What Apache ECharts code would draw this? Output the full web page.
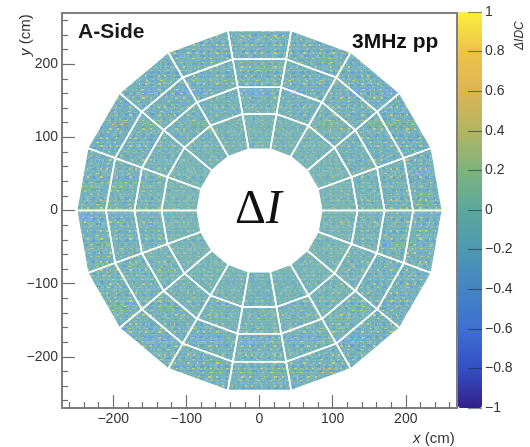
<!DOCTYPE html>
<html><head><meta charset="utf-8">
<style>html,body{margin:0;padding:0;background:#fff}#c{width:530px;height:447px;filter:blur(0.6px)}</style>
<script src="https://cdn.jsdelivr.net/npm/echarts@6/dist/echarts.min.js"></script>
</head><body><div id="c"></div>
<script>
// Estimated mean dI/IDC per readout chamber; sector 0 spans 0-20 deg, counter-clockwise
const ringInner = [-0.06,-0.07,-0.06,-0.08,-0.07,-0.08,-0.09,-0.07,-0.06,-0.07,-0.06,-0.07,-0.08,-0.10,-0.09,-0.08,-0.07,-0.06];
const ringIRegion2 = [-0.09,-0.10,-0.08,-0.11,-0.09,-0.10,-0.11,-0.09,-0.08,-0.08,-0.07,-0.08,-0.09,-0.09,-0.08,-0.07,-0.08,-0.08];
const ringIRegion3 = [-0.10,-0.12,-0.11,-0.13,-0.12,-0.12,-0.13,-0.12,-0.11,-0.11,-0.09,-0.10,-0.10,-0.09,-0.09,-0.09,-0.11,-0.10];
const ringOuter = [-0.14,-0.16,-0.14,-0.14,-0.12,-0.11,-0.13,-0.16,-0.11,-0.12,-0.09,-0.10,-0.13,-0.12,-0.11,-0.13,-0.12,-0.12];
const ringValues = [ringInner, ringIRegion2, ringIRegion3, ringOuter];
const ringEdges = [85, 134, 171, 210, 250];
const sectorWidth = 20;
const axisTicks = [-200, -100, 0, 100, 200];
const minorTicks = [-260,-240,-220,-180,-160,-140,-120,-80,-60,-40,-20,20,40,60,80,120,140,160,180,220,240,260];
const barColors = ['#32208a','#3550c4','#3f6fd0','#4584c4','#4c99b0','#5ca79c','#7eb37c','#b2b563','#ddb455','#eec24a','#fbef3a'];

const cells = [];
ringValues.forEach((row, r) => row.forEach((v, s) => cells.push([s, r, v])));

const textureStrength = [0.55, 0.75, 0.9, 1];
const lightSpeck = {symbol:'rect', symbolSize:1, color:'rgba(160,200,190,0.45)', backgroundColor:null, rotation:0,
  dashArrayX:[[3,2,4,3,2,5],[2,4,1,3,5,2],[4,3,2,2,3,5],[1,3,4,4,2,3],[5,2,2,4,1,3],[2,5,3,2,4,3],[3,3,5,2,1,4]], dashArrayY:[2,1,3,2,1,2,2,1,3,1,2,2,1,3]};
const blueSpeck = {symbol:'rect', symbolSize:1, color:'rgba(92,150,226,0.62)', backgroundColor:null, rotation:0,
  dashArrayX:[[3,5,2,7,4,4],[2,9,4,3,1,6],[4,4,2,7,3,5],[1,6,3,8,5,3],[5,3,2,6,2,7]], dashArrayY:[2,2,1,3,3,2,2,3,1,2]};
const yellowSpeck = {symbol:'rect', symbolSize:1, color:'rgba(224,214,90,0.78)', backgroundColor:null, rotation:0,
  dashArrayX:[[3,7,1,11,2,6],[1,9,3,5,2,13],[2,6,1,8,3,10],[1,12,2,4,2,8],[3,8,1,6,2,12],[2,11,3,7,1,5],[1,5,2,14,3,9]], dashArrayY:[1,3,2,2,1,4,2,3,1,2,2,4,1,3]};

const fmt = v => String(v).replace('-', '\u2212');
const chart = echarts.init(document.getElementById('c'), null, {renderer:'canvas'});
const tickColor = '#6e6e6e';
const noLine = {show:false, onZero:false};
function spatialAxis(extra){
  return Object.assign({type:'value', min:-270, max:270, gridIndex:0, splitLine:{show:false}, axisLine:noLine}, extra);
}
const mainTick = {show:true, inside:true, length:13, lineStyle:{color:tickColor,width:1.2}, customValues:axisTicks};
const lab = {color:'#333', fontSize:14, fontFamily:'Liberation Sans', margin:4, customValues:axisTicks, formatter:fmt};
const minTick = {show:true, inside:true, length:6, lineStyle:{color:tickColor,width:1.2}, customValues:minorTicks};

chart.setOption({
  animation:false,
  grid:[
    {left:62, top:13, width:395, height:395, show:true, borderColor:'#7f7f7f', borderWidth:2, backgroundColor:'#fff', z:0},
    {left:458, top:12, width:24, height:396, show:false}
  ],
  xAxis:[
    spatialAxis({position:'bottom', axisTick:mainTick, axisLabel:lab}),
    spatialAxis({position:'bottom', axisTick:minTick, axisLabel:{show:false}}),
    {gridIndex:1, type:'value', min:0, max:1, show:false}
  ],
  yAxis:[
    spatialAxis({position:'left', axisTick:mainTick, axisLabel:lab}),
    spatialAxis({position:'left', axisTick:minTick, axisLabel:{show:false}}),
    {gridIndex:1, type:'value', min:-1, max:1, interval:0.2, position:'right', z:10,
     axisLine:noLine, splitLine:{show:false},
     axisTick:{show:true, inside:true, length:14, lineStyle:{color:'rgba(20,40,40,0.5)',width:1.2}},
     axisLabel:{color:'#333', fontSize:14, fontFamily:'Liberation Sans', margin:3,
       formatter:v => fmt(Math.round(v*10)/10)}}
  ],
  visualMap:{type:'continuous', min:-1, max:1, dimension:2, seriesIndex:0, calculable:false, realtime:false,
    left:458, top:12, itemWidth:24, itemHeight:396, text:null, showLabel:false, inRange:{color:barColors}, padding:0, hoverLink:false},
  series:[{
    type:'custom', coordinateSystem:'cartesian2d', xAxisIndex:0, yAxisIndex:0, data:cells, clip:true, z:2,
    encode:{x:0,y:1},
    renderItem(params, api){
      const s = api.value(0), r = api.value(1);
      const a0 = s*sectorWidth*Math.PI/180, a1 = (s+1)*sectorWidth*Math.PI/180;
      const r0 = ringEdges[r], r1 = ringEdges[r+1];
      const pts = [[r0,a0],[r1,a0],[r1,a1],[r0,a1]].map(([q,a]) => api.coord([q*Math.cos(a), q*Math.sin(a)]));
      const shape = {points:pts};
      const op = textureStrength[r];
      return {type:'group', children:[
        {type:'polygon', shape, style:{fill:api.visual('color'), opacity:0.8}},
        {type:'polygon', shape, style:{fill:'rgba(0,0,0,0)', decal:lightSpeck}},
        {type:'polygon', shape, style:{fill:'rgba(0,0,0,0)', decal:blueSpeck, opacity:op}},
        {type:'polygon', shape, style:{fill:'rgba(0,0,0,0)', decal:yellowSpeck, opacity:op}},
        {type:'polygon', shape, style:{fill:'none', stroke:'#ffffff', lineWidth:1.6}, z2:5}
      ]};
    }
  }],
  graphic:[
    {type:'text', left:78, top:22, style:{text:'A-Side', font:'bold 21px "Liberation Sans"', fill:'#1a1a1a'}},
    {type:'text', left:352, top:32, style:{text:'3MHz pp', font:'bold 21px "Liberation Sans"', fill:'#111'}},
    {type:'text', left:235, top:186, style:{text:'{a|\u0394}{b|I}', rich:{a:{font:'48px "Liberation Serif"',fill:'#111'},b:{font:'italic 48px "Liberation Serif"',fill:'#111'}}}},
    {type:'text', x:413, y:431, style:{text:'{i|x} (cm)', fill:'#333', font:'15px "Liberation Sans"', rich:{i:{font:'italic 15px "Liberation Sans"',fill:'#333'}}}},
    {type:'text', x:18, y:56, rotation:Math.PI/2, style:{text:'{i|y} (cm)', fill:'#333', font:'15px "Liberation Sans"', rich:{i:{font:'italic 15px "Liberation Sans"',fill:'#333'}}}},
    {type:'text', x:514, y:50, rotation:Math.PI/2, style:{text:'\u0394IDC', fill:'#333', font:'italic 12px "Liberation Sans"'}}
  ]
});
</script></body></html>
